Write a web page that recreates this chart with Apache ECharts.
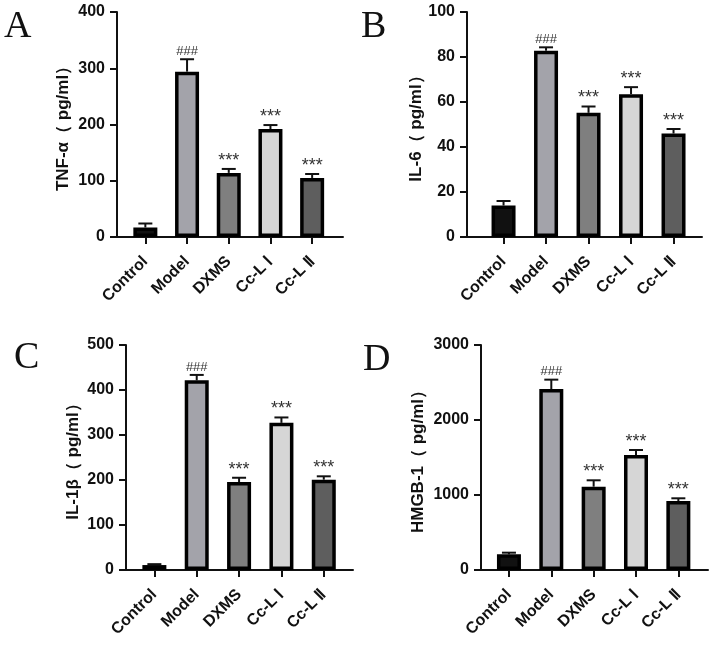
<!DOCTYPE html>
<html>
<head>
<meta charset="utf-8">
<script src="https://cdn.jsdelivr.net/npm/echarts@6/dist/echarts.min.js"></script>
<style>
  html, body { margin: 0; padding: 0; background: #fff; }
  #main { width: 714px; height: 647px; }
</style>
</head>
<body>
<div id="main"></div>
<script>
// groups on the x axis
var categories = ['Control', 'Model', 'DXMS', 'Cc-L Ⅰ', 'Cc-L Ⅱ'];
var barColors = ['#111111', '#a3a3aa', '#7f7f7f', '#d6d6d6', '#5e5e5e'];
var marks = ['', '###', '***', '***', '***'];

// mean and SD
var tnfMean = [17, 294, 114, 192, 105];
var tnfSd = [7, 22, 7, 7, 7];
var il6Mean = [14, 82.8, 55.2, 63.5, 46];
var il6Sd = [2, 1.5, 2.8, 3.1, 2];
var il1bMean = [11, 421.5, 195.5, 327, 200.7];
var il1bSd = [2, 12, 9.5, 12, 7.5];
var hmgbMean = [209, 2413, 1111, 1533, 920];
var hmgbSd = [22, 125, 85, 67, 36];

// y axis ranges / ticks
var tnfTicks = [0, 400, 100];
var il6Ticks = [0, 100, 20];
var il1bTicks = [0, 500, 100];
var hmgbTicks = [0, 3000, 1000];

var yNames = ['TNF-α（ pg/ml）', 'IL-6（ pg/ml）', 'IL-1β（ pg/ml）', 'HMGB-1（ pg/ml）'];
var letters = ['A', 'B', 'C', 'D'];

var font = 'Liberation Sans';

var panels = [
  { mean: tnfMean, sd: tnfSd, ticks: tnfTicks, grid: { left: 117, top: 12, width: 226, height: 225 }, xr: [-0.68, 4.74], gap: 45 },
  { mean: il6Mean, sd: il6Sd, ticks: il6Ticks, grid: { left: 467, top: 12, width: 235, height: 225 }, xr: [-0.86, 4.67], gap: 40 },
  { mean: il1bMean, sd: il1bSd, ticks: il1bTicks, grid: { left: 126, top: 345, width: 227, height: 225 }, xr: [-0.67, 4.69], gap: 44 },
  { mean: hmgbMean, sd: hmgbSd, ticks: hmgbTicks, grid: { left: 481, top: 345, width: 227, height: 225 }, xr: [-0.66, 4.70], gap: 54 }
];

var idx = categories.map(function (c, i) { return i; });

var grids = [], xAxes = [], yAxes = [], series = [];

panels.forEach(function (p, gi) {
  grids.push(p.grid);
  xAxes.push({
    type: 'value', gridIndex: gi, min: p.xr[0], max: p.xr[1],
    splitLine: { show: false },
    axisLine: { show: true, onZero: false, lineStyle: { color: '#111', width: 2 } },
    axisTick: { show: true, length: 7, customValues: idx, lineStyle: { color: '#111', width: 2 } },
    axisLabel: {
      customValues: idx, rotate: 45, margin: 22,
      fontFamily: font, fontWeight: 'bold', fontSize: 16, color: '#111',
      formatter: function (v) { return categories[Math.round(v)]; }
    }
  });
  yAxes.push({
    type: 'value', gridIndex: gi, min: p.ticks[0], max: p.ticks[1], interval: p.ticks[2],
    name: yNames[gi], nameLocation: 'middle', nameGap: p.gap,
    nameTextStyle: { fontFamily: font, fontWeight: 'bold', fontSize: 17, color: '#111' },
    splitLine: { show: false },
    axisLine: { show: true, onZero: false, lineStyle: { color: '#111', width: 2 } },
    axisTick: { show: true, length: 7, lineStyle: { color: '#111', width: 2 } },
    axisLabel: {
      fontFamily: font, fontWeight: 'bold', fontSize: 16, color: '#111', margin: 12,
      formatter: function (v) { return String(v); }
    }
  });
  series.push({
    type: 'bar', xAxisIndex: gi, yAxisIndex: gi, barWidth: 24,
    data: p.mean.map(function (m, i) {
      return { value: [i, m], itemStyle: { color: barColors[i] } };
    }),
    itemStyle: { borderColor: '#000', borderWidth: 3.5 },
    z: 2
  });
  series.push({
    type: 'custom', xAxisIndex: gi, yAxisIndex: gi, z: 1,
    data: p.mean.map(function (m, i) { return [i, m, m + p.sd[i]]; }),
    renderItem: function (params, api) {
      var x = api.value(0);
      var lo = api.coord([x, api.value(1)]);
      var hi = api.coord([x, api.value(2)]);
      var cap = 7;
      var st = { stroke: '#111', lineWidth: 2 };
      var mk = marks[params.dataIndex];
      var hash = mk === '###';
      return {
        type: 'group',
        children: [
          { type: 'line', shape: { x1: lo[0], y1: lo[1], x2: hi[0], y2: hi[1] }, style: st },
          { type: 'line', shape: { x1: hi[0] - cap, y1: hi[1], x2: hi[0] + cap, y2: hi[1] }, style: st },
          {
            type: 'text', x: hi[0], y: hash ? hi[1] - 1.5 : hi[1] + 1,
            style: {
              text: mk, fill: '#333',
              font: (hash ? '13px' : '18px') + ' "Liberation Sans"', align: 'center', verticalAlign: 'bottom'
            }
          }
        ]
      };
    }
  });
});

var titlePos = [[4, 8], [361, 8], [14, 339], [363, 341]];
var titles = letters.map(function (l, i) {
  return {
    text: l, left: titlePos[i][0], top: titlePos[i][1], padding: 0,
    textStyle: { fontFamily: 'Liberation Serif', fontWeight: 'normal', fontSize: 38, color: '#111' }
  };
});

var myChart = echarts.init(document.getElementById('main'));
myChart.setOption({
  backgroundColor: '#fff',
  animation: false,
  title: titles,
  grid: grids,
  xAxis: xAxes,
  yAxis: yAxes,
  series: series
});
</script>
</body>
</html>
